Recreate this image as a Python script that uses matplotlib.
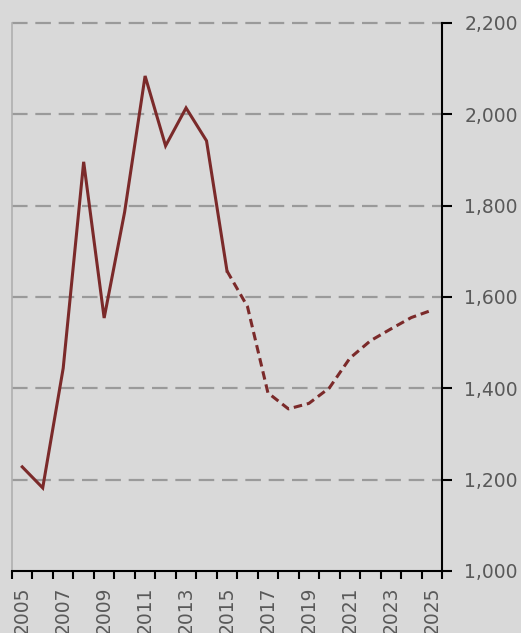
import numpy as np
import matplotlib.pyplot as plt
from matplotlib.ticker import FuncFormatter

# values
years = np.arange(2005, 2026)
values = [1228, 1182, 1444, 1896, 1554, 1786, 2084, 1931, 2014, 1942,
          1657, 1579, 1390, 1355, 1367, 1401, 1466, 1504, 1530, 1555, 1571]
split_year = 2015  # solid up to here, dashed afterwards

yticks = [1000, 1200, 1400, 1600, 1800, 2000, 2200]
label_years = years[::2]

bg = '#d9d9d9'
line_col = '#7b2a2a'
txt_col = '#595959'

plt.rcParams['font.family'] = ['DejaVu Sans']

fig = plt.figure(figsize=(5.21, 6.33), dpi=100, facecolor=bg)
ax = fig.add_axes([12 / 521, 62 / 633, 430 / 521, 548 / 633])
ax.set_facecolor(bg)

yrs = np.array(years)
vals = np.array(values)
solid = yrs <= split_year
dashed = yrs >= split_year
ax.plot(yrs[solid], vals[solid], color=line_col, lw=2.2, zorder=3,
        solid_joinstyle='miter')
ax.plot(yrs[dashed], vals[dashed], color=line_col, lw=2.2, zorder=3,
        linestyle=(0, (2.8, 1.6)), dash_capstyle='butt')

ax.set_xlim(years[0] - 0.5, years[-1] + 0.5)
ax.set_ylim(yticks[0], yticks[-1])

# gridlines (top one sits on the plot edge, so don't clip it)
for v in yticks[1:]:
    ax.axhline(v, color='#9a9a9a', lw=1.6, linestyle=(0, (7, 3.5)), zorder=1,
               clip_on=False)

# y axis on the right
ax.yaxis.tick_right()
ax.set_yticks(yticks)
ax.yaxis.set_major_formatter(FuncFormatter(lambda v, p: f'{int(v):,}'))
ax.tick_params(axis='y', direction='out', length=7, width=1.5, color='black',
               labelsize=13.5, labelcolor=txt_col, pad=9)

# x axis: boundary ticks, labels on odd years
ax.set_xticks(np.arange(years[0] - 0.5, years[-1] + 1, 1.0))
ax.set_xticklabels([])
ax.tick_params(axis='x', which='major', direction='out', length=6, width=1.5,
               color='black')
ax.set_xticks(label_years, minor=True)
ax.set_xticklabels([str(y) for y in label_years], minor=True, rotation=90,
                   va='top', ha='center')
ax.tick_params(axis='x', which='minor', length=0, labelsize=13.5,
               labelcolor=txt_col, pad=11)

ax.spines['top'].set_visible(False)
ax.spines['left'].set_color('#b0b0b0')
ax.spines['left'].set_linewidth(1.2)
ax.spines['right'].set_color('black')
ax.spines['right'].set_linewidth(1.5)
ax.spines['bottom'].set_color('black')
ax.spines['bottom'].set_linewidth(1.5)

fig.savefig('out.png', dpi=100, facecolor=bg)
